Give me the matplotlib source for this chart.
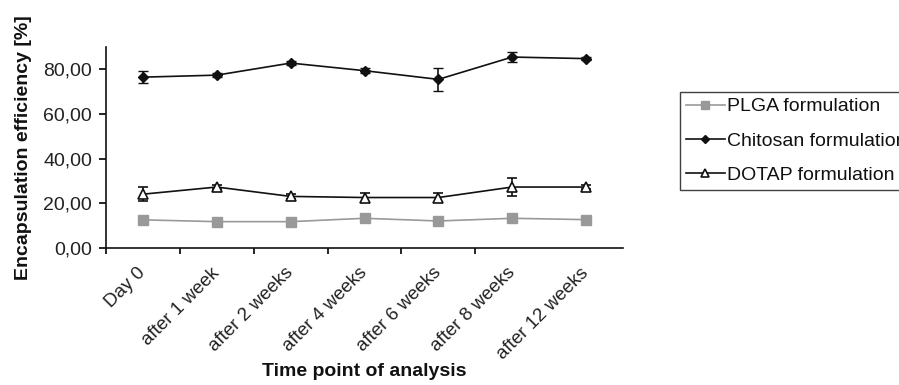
import matplotlib
matplotlib.use("Agg")
import matplotlib.pyplot as plt
import matplotlib.transforms as mtransforms
import numpy as np

plt.rcParams['font.family'] = ['Liberation Sans', 'DejaVu Sans']

categories = ["Day 0", "after 1 week", "after 2 weeks", "after 4 weeks",
              "after 6 weeks", "after 8 weeks", "after 12 weeks"]
plga = [12.6, 11.8, 11.8, 13.3, 12.1, 13.3, 12.7]
plga_err = [0.5, 0.4, 0.4, 0.5, 0.4, 0.5, 0.4]
chitosan = [76.5, 77.4, 82.8, 79.4, 75.5, 85.5, 84.8]
chitosan_err = [2.7, 0.8, 1.0, 1.0, 5.0, 2.4, 0.8]
dotap = [24.1, 27.3, 23.1, 22.6, 22.6, 27.3, 27.3]
dotap_err = [3.0, 1.0, 1.0, 2.2, 2.2, 4.2, 1.0]
yticks = [0, 20, 40, 60, 80]
ytick_labels = ["0,00", "20,00", "40,00", "60,00", "80,00"]

fig = plt.figure(figsize=(8.99, 3.85), dpi=100)
ax = fig.add_axes([106/899, 1-248/385, (623-106)/899, (248-47)/385])

x = np.arange(len(categories))
lw = 1.2
e1 = ax.errorbar(x, plga, yerr=plga_err, color='#999999', ecolor='#999999', lw=lw,
                 marker='s', ms=6.5, mfc='#999999', mec='#999999', capsize=3,
                 elinewidth=1, label='PLGA formulation', zorder=3)
e2 = ax.errorbar(x, chitosan, yerr=chitosan_err, color='#111111', ecolor='#111111', lw=lw,
                 marker='D', ms=5.5, mfc='#111111', mec='#111111', capsize=3.5,
                 elinewidth=1.2, label='Chitosan formulation', zorder=3)
e3 = ax.errorbar(x, dotap, yerr=dotap_err, color='#111111', ecolor='#111111', lw=lw,
                 marker='^', ms=7.5, mfc='white', mec='#111111', mew=1.2, capsize=3.5,
                 elinewidth=1.2, label='DOTAP formulation', zorder=3)

ax.set_xlim(-0.5, len(categories) - 0.5)
ax.set_ylim(0, 90)
ax.set_yticks(yticks)
ax.set_yticklabels(ytick_labels, fontsize=14, color='#222222')
ax.tick_params(axis='y', direction='out', length=5, width=1.2, pad=5)

ax.set_xticks(np.arange(len(categories) - 1) - 0.5)
ax.set_xticklabels([])
ax.tick_params(axis='x', which='major', direction='out', length=4, width=1.2)
ax.set_xticks(x, minor=True)
ax.set_xticklabels(categories, minor=True, rotation=45, ha='right', va='top',
                   rotation_mode='anchor', fontsize=13.5, color='#222222')
ax.tick_params(axis='x', which='minor', length=0, pad=6)
offset = mtransforms.ScaledTranslation(-6/100, -8/100, fig.dpi_scale_trans)
for lab in ax.get_xticklabels(minor=True):
    lab.set_transform(lab.get_transform() + offset)

for s in ['top', 'right']:
    ax.spines[s].set_visible(False)
for s in ['left', 'bottom']:
    ax.spines[s].set_linewidth(1.2)
    ax.spines[s].set_color('#111111')

ax.set_ylabel('Encapsulation efficiency [%]', fontsize=14, fontweight='bold',
              color='#111111')
ax.yaxis.set_label_coords(-0.144, 0.5)
ax.set_xlabel('Time point of analysis', fontsize=14, fontweight='bold',
              color='#111111')
ax.xaxis.set_label_coords(0.5, -0.572)

handles = [e1[0], e2[0], e3[0]]
labels = ['PLGA formulation', 'Chitosan formulation', 'DOTAP formulation']
leg = fig.legend(handles, labels, loc='upper left', bbox_to_anchor=(680/899, 1-92/385),
                 borderaxespad=0, frameon=True, fancybox=False, fontsize=14,
                 handlelength=2.0, handletextpad=0.1, labelspacing=0.85,
                 borderpad=0.3, edgecolor='#111111', markerscale=0.8)
leg.get_frame().set_linewidth(1.0)
for t in leg.get_texts():
    t.set_color('#111111')

fig.savefig('out.png', dpi=100)
